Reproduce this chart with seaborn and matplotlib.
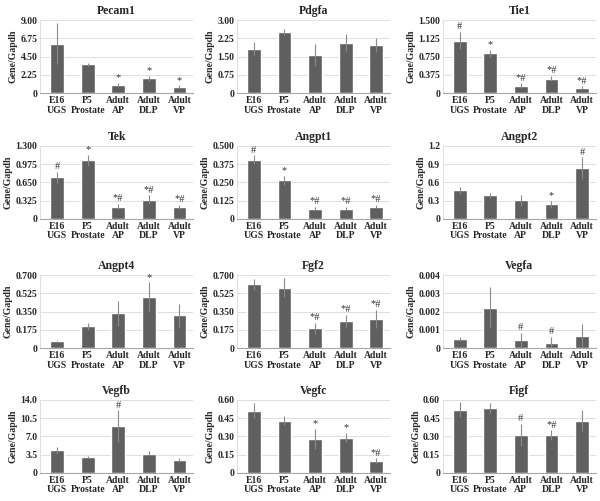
import matplotlib
matplotlib.use('Agg')
import matplotlib.pyplot as plt
import seaborn as sns
import numpy as np
import pandas as pd

sns.set_style('white')
plt.rcParams['font.family'] = ['Liberation Serif', 'DejaVu Serif']
plt.rcParams['font.weight'] = 'bold'

groups = ['E16\nUGS', 'P5\nProstate', 'Adult\nAP', 'Adult\nDLP', 'Adult\nVP']

genes = ['Pecam1', 'Pdgfa', 'Tie1', 'Tek', 'Angpt1', 'Angpt2',
         'Angpt4', 'Fgf2', 'Vegfa', 'Vegfb', 'Vegfc', 'Figf']

means = [
    [6.1, 3.55, 1.0, 1.85, 0.8],
    [1.83, 2.52, 1.55, 2.07, 1.98],
    [1.08, 0.82, 0.15, 0.30, 0.11],
    [0.74, 1.04, 0.22, 0.34, 0.21],
    [0.405, 0.265, 0.07, 0.07, 0.085],
    [0.47, 0.39, 0.31, 0.24, 0.83],
    [0.07, 0.21, 0.335, 0.49, 0.315],
    [0.61, 0.58, 0.19, 0.26, 0.28],
    [0.00052, 0.00222, 0.00043, 0.0003, 0.00065],
    [4.3, 3.0, 9.0, 3.7, 2.4],
    [0.51, 0.43, 0.28, 0.29, 0.10],
    [0.52, 0.535, 0.31, 0.31, 0.43],
]

errors = [
    [2.5, 0.15, 0.3, 0.3, 0.15],
    [0.25, 0.12, 0.45, 0.35, 0.3],
    [0.17, 0.07, 0.05, 0.06, 0.03],
    [0.1, 0.1, 0.05, 0.08, 0.04],
    [0.03, 0.03, 0.012, 0.012, 0.012],
    [0.06, 0.04, 0.09, 0.06, 0.18],
    [0.005, 0.035, 0.12, 0.14, 0.11],
    [0.05, 0.09, 0.05, 0.06, 0.09],
    [0.0001, 0.0011, 0.0004, 0.0003, 0.00065],
    [0.6, 0.15, 3.0, 0.5, 0.4],
    [0.06, 0.04, 0.08, 0.04, 0.02],
    [0.06, 0.04, 0.09, 0.04, 0.09],
]

marks = [
    ['', '', '*', '*', '*'],
    ['', '', '', '', ''],
    ['#', '*', '*#', '*#', '*#'],
    ['#', '*', '*#', '*#', '*#'],
    ['#', '*', '*#', '*#', '*#'],
    ['', '', '', '*', '#'],
    ['', '', '', '*', ''],
    ['', '', '*#', '*#', '*#'],
    ['', '', '#', '#', ''],
    ['', '', '#', '', ''],
    ['', '', '*', '*', '*#'],
    ['', '', '#', '*#', ''],
]

ymax = [9.0, 3.0, 1.5, 1.3, 0.5, 1.2, 0.7, 0.7, 0.004, 14.0, 0.6, 0.6]
decimals = [2, 2, 3, 3, 3, 1, 3, 3, 3, 1, 2, 2]

fig = plt.figure(figsize=(6.0, 5.01), dpi=100)
lefts = [0.067, 0.395, 0.738]
bottoms = [0.814, 0.563, 0.305, 0.056]

for i, gene in enumerate(genes):
    r, c = divmod(i, 3)
    ax = fig.add_axes([lefts[c], bottoms[r], 0.255, 0.146])
    df = pd.DataFrame({'group': groups, 'value': means[i]})
    sns.barplot(data=df, x='group', y='value', color='#5f5f5f',
                saturation=1, width=0.45, errorbar=None, ax=ax)
    ax.errorbar(range(len(groups)), means[i], yerr=errors[i], fmt='none',
                ecolor='#8a8a8a', elinewidth=0.8, capsize=0)
    for j, m in enumerate(marks[i]):
        if m:
            ax.text(j, means[i][j] + errors[i][j] + ymax[i] * 0.01, m,
                    ha='center', va='bottom', fontsize=7.5, color='#333333',
                    fontweight='normal')
    ticks = np.linspace(0, ymax[i], 5)
    ax.set_ylim(0, ymax[i])
    ax.set_yticks(ticks)
    ax.set_yticklabels(['0'] + [f'{t:.{decimals[i]}f}' for t in ticks[1:]],
                       fontsize=7, fontweight='bold')
    ax.set_xticks(range(len(groups)))
    ax.set_xticklabels(groups, fontsize=7, fontweight='bold', linespacing=1.1)
    ax.set_xlim(-0.55, 4.45)
    ax.set_xlabel('')
    ax.set_ylabel('Gene/Gapdh', fontsize=7, fontweight='bold', labelpad=2)
    ax.set_title(gene, fontsize=8.5, fontweight='bold', pad=4)
    ax.yaxis.grid(True, color='#d9d9d9', linewidth=0.6)
    ax.set_axisbelow(True)
    ax.tick_params(length=0, pad=2)
    for s in ['top', 'right']:
        ax.spines[s].set_visible(False)
    ax.spines['left'].set_color('#d9d9d9')
    ax.spines['left'].set_linewidth(0.6)
    ax.spines['bottom'].set_color('#a6a6a6')
    ax.spines['bottom'].set_linewidth(0.8)

fig.savefig('out.png', dpi=100)
